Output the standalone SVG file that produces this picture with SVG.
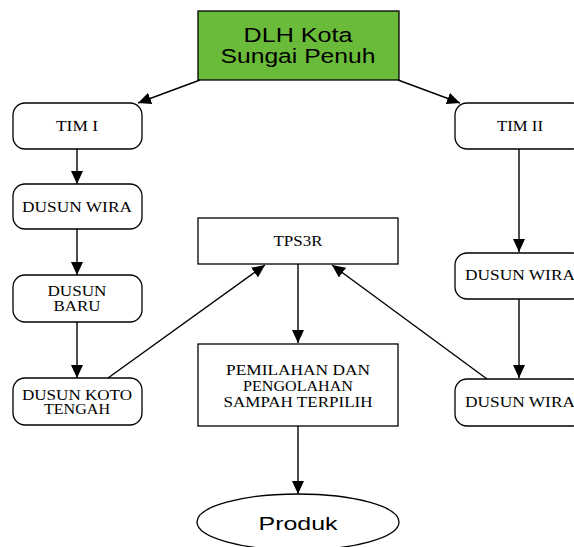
<svg xmlns="http://www.w3.org/2000/svg" width="574" height="547" viewBox="0 0 574 547">
<style>
.box{fill:#fff;stroke:#000;stroke-width:1.3}
.t{font-family:"Liberation Serif","Times New Roman",serif;font-size:14px;fill:#000;text-anchor:middle}
.s{font-family:"Liberation Sans",Arial,sans-serif;fill:#000;text-anchor:middle}
.c{stroke:#000;stroke-width:1.4;fill:none}
</style>
<defs>
<marker id="ah" markerUnits="userSpaceOnUse" markerWidth="14" markerHeight="12" refX="13" refY="6" orient="auto">
<path d="M0,0 L13,6 L0,12 Z" fill="#000"/>
</marker>
</defs>
<g id="dlh">
<rect x="198" y="11" width="201" height="69" fill="#6abb3a" stroke="#000" stroke-width="1.3"/>
<text class="s" x="298" y="42" font-size="20.5" textLength="109" lengthAdjust="spacingAndGlyphs">DLH Kota</text>
<text class="s" x="298" y="63" font-size="20.5" textLength="155" lengthAdjust="spacingAndGlyphs">Sungai Penuh</text>
</g>
<g id="tim1">
<rect class="box" x="13" y="103" width="129" height="46" rx="12"/>
<text class="t" x="77" y="131" textLength="42" lengthAdjust="spacingAndGlyphs">TIM I</text>
</g>
<g id="dusunwira1">
<rect class="box" x="13" y="184" width="129" height="45" rx="12"/>
<text class="t" x="77" y="212" textLength="110" lengthAdjust="spacingAndGlyphs">DUSUN WIRA</text>
</g>
<g id="dusunbaru">
<rect class="box" x="13" y="275" width="129" height="47" rx="12"/>
<text class="t" x="77" y="296" textLength="59" lengthAdjust="spacingAndGlyphs">DUSUN</text>
<text class="t" x="77" y="311" textLength="47" lengthAdjust="spacingAndGlyphs">BARU</text>
</g>
<g id="dusunkoto">
<rect class="box" x="13" y="378" width="129" height="47" rx="12"/>
<text class="t" x="77" y="400" textLength="110" lengthAdjust="spacingAndGlyphs">DUSUN KOTO</text>
<text class="t" x="77" y="414" textLength="66" lengthAdjust="spacingAndGlyphs">TENGAH</text>
</g>
<g id="tps3r">
<rect class="box" x="198" y="218" width="200" height="46"/>
<text class="t" x="298" y="246" textLength="49" lengthAdjust="spacingAndGlyphs">TPS3R</text>
</g>
<g id="pemilahan">
<rect class="box" x="198" y="344" width="200" height="82"/>
<text class="t" x="298" y="375" textLength="144" lengthAdjust="spacingAndGlyphs">PEMILAHAN DAN</text>
<text class="t" x="298" y="391" textLength="110" lengthAdjust="spacingAndGlyphs">PENGOLAHAN</text>
<text class="t" x="298" y="407" textLength="149" lengthAdjust="spacingAndGlyphs">SAMPAH TERPILIH</text>
</g>
<g id="produk">
<ellipse cx="298" cy="522" rx="101" ry="28" fill="#fff" stroke="#000" stroke-width="1.3"/>
<text class="s" x="298" y="530" font-size="19" textLength="79" lengthAdjust="spacingAndGlyphs">Produk</text>
</g>
<g id="tim2">
<rect class="box" x="455" y="103" width="130" height="46" rx="12"/>
<text class="t" x="520" y="131" textLength="46" lengthAdjust="spacingAndGlyphs">TIM II</text>
</g>
<g id="dusunwira2">
<rect class="box" x="455" y="253" width="130" height="46" rx="12"/>
<text class="t" x="520" y="280" textLength="110" lengthAdjust="spacingAndGlyphs">DUSUN WIRA</text>
</g>
<g id="dusunwira3">
<rect class="box" x="455" y="379" width="130" height="47" rx="12"/>
<text class="t" x="520" y="407" textLength="110" lengthAdjust="spacingAndGlyphs">DUSUN WIRA</text>
</g>
<g id="connectors">
<line class="c" x1="200" y1="80" x2="138" y2="103" marker-end="url(#ah)"/>
<line class="c" x1="398" y1="80" x2="460" y2="103" marker-end="url(#ah)"/>
<line class="c" x1="77" y1="149" x2="77" y2="184" marker-end="url(#ah)"/>
<line class="c" x1="77" y1="229" x2="77" y2="275" marker-end="url(#ah)"/>
<line class="c" x1="77" y1="322" x2="77" y2="378" marker-end="url(#ah)"/>
<line class="c" x1="108" y1="378" x2="265" y2="265" marker-end="url(#ah)"/>
<line class="c" x1="487" y1="379" x2="332" y2="265" marker-end="url(#ah)"/>
<line class="c" x1="298" y1="264" x2="298" y2="343" marker-end="url(#ah)"/>
<line class="c" x1="298" y1="426" x2="298" y2="494" marker-end="url(#ah)"/>
<line class="c" x1="519" y1="149" x2="519" y2="252" marker-end="url(#ah)"/>
<line class="c" x1="519" y1="299" x2="519" y2="378" marker-end="url(#ah)"/>
</g>
</svg>
